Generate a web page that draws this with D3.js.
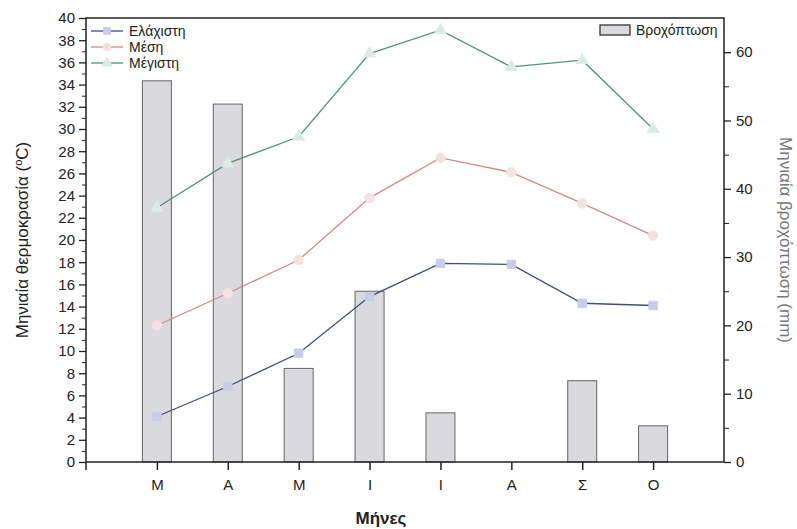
<!DOCTYPE html>
<html><head><meta charset="utf-8">
<script src="https://cdn.jsdelivr.net/npm/d3@7"></script>
<style>body{margin:0;background:#fff}svg{display:block}text{font-family:"Liberation Sans",Arial,sans-serif}</style>
</head><body>
<svg id="c" width="797" height="529"></svg>
<script>
const months = ["Μ","Α","Μ","Ι","Ι","Α","Σ","Ο"];
const tMin  = [4.1, 6.8, 9.8, 14.9, 17.9, 17.8, 14.3, 14.1];
const tMean = [12.3, 15.2, 18.2, 23.8, 27.4, 26.1, 23.3, 20.4];
const tMax  = [22.9, 26.9, 29.3, 36.8, 38.9, 35.6, 36.2, 30.0];
const rain  = [55.8, 52.4, 13.7, 25.0, 7.2, 0, 11.9, 5.3];
const leftTicks = d3.range(0, 41, 2);
const rightTicks = [0,10,20,30,40,50,60];

const svg = d3.select("#c");
const L = 86, R = 724, T = 18, B = 462;
const x = d3.scaleLinear().domain([0, 9]).range([L, R]);
const y = d3.scaleLinear().domain([0, 40]).range([B, T]);
const y2 = d3.scaleLinear().domain([0, 65]).range([B, T]);
const bw = 29;

// bars
svg.append("g").selectAll("rect").data(rain.map((v,i)=>({v,i}))).join("rect")
  .filter(d=>d.v>0)
  .attr("x", d=>x(d.i+1)-bw/2).attr("y", d=>y2(d.v))
  .attr("width", bw).attr("height", d=>B-y2(d.v))
  .attr("fill", "#dadade").attr("stroke", "#666").attr("stroke-width", 1);

// frame
svg.append("rect").attr("x", L).attr("y", T).attr("width", R-L).attr("height", B-T)
  .attr("fill","none").attr("stroke","#222").attr("stroke-width",1.5);

// left axis
const la = svg.append("g").attr("transform", `translate(${L},0)`)
  .call(d3.axisLeft(y).tickValues(leftTicks).tickSize(7).tickPadding(4).tickFormat(d3.format("d")));
la.select(".domain").remove();
la.selectAll("line").attr("stroke","#222").attr("stroke-width",1.3);
la.selectAll("text").attr("font-size",15).attr("fill","#222");
svg.append("g").attr("transform", `translate(${L},0)`)
  .call(d3.axisLeft(y).tickValues(d3.range(1,40,2)).tickSize(4).tickFormat(""))
  .call(g=>g.select(".domain").remove()).selectAll("line").attr("stroke","#222");

// right axis
const ra = svg.append("g").attr("transform", `translate(${R},0)`)
  .call(d3.axisRight(y2).tickValues(rightTicks).tickSize(7).tickPadding(5).tickFormat(d3.format("d")));
ra.select(".domain").remove();
ra.selectAll("line").attr("stroke","#222").attr("stroke-width",1.3);
ra.selectAll("text").attr("font-size",15).attr("fill","#222");
svg.append("g").attr("transform", `translate(${R},0)`)
  .call(d3.axisRight(y2).tickValues(d3.range(5,65,10)).tickSize(5).tickFormat(""))
  .call(g=>g.select(".domain").remove()).selectAll("line").attr("stroke","#222");

// bottom axis
const ba = svg.append("g").attr("transform", `translate(0,${B})`)
  .call(d3.axisBottom(x).tickValues(d3.range(1,9)).tickSize(8).tickPadding(9).tickFormat(d=>months[d-1]));
ba.select(".domain").remove();
ba.selectAll("line").attr("stroke","#222").attr("stroke-width",1.5);
ba.selectAll("text").attr("font-size",15).attr("fill","#222");
svg.append("line").attr("x1",L).attr("x2",L).attr("y1",B).attr("y2",B+8).attr("stroke","#222").attr("stroke-width",1.5);

// lines
const series = [
  {name:"Ελάχιστη", data:tMin, line:"#3f4d80", fill:"#c9cce8", shape:d3.symbolSquare},
  {name:"Μέση", data:tMean, line:"#d48a86", fill:"#f4e2e2", shape:d3.symbolCircle},
  {name:"Μέγιστη", data:tMax, line:"#4f9474", fill:"#dcece4", shape:d3.symbolTriangle}
];
const lg = d3.line().x((d,i)=>x(i+1)).y(d=>y(d));
series.forEach(s=>{
  svg.append("path").attr("d", lg(s.data)).attr("fill","none").attr("stroke", s.line).attr("stroke-width",1.3);
  svg.append("g").selectAll("path").data(s.data).join("path")
    .attr("transform",(d,i)=>`translate(${x(i+1)},${y(d)})`)
    .attr("d", d3.symbol().type(s.shape).size(s.shape===d3.symbolTriangle?60:70))
    .attr("fill", s.fill).attr("stroke", s.fill);
});

// legend left
series.forEach((s,i)=>{
  const yy = 31 + i*16;
  svg.append("line").attr("x1",91).attr("x2",123).attr("y1",yy).attr("y2",yy).attr("stroke",s.line).attr("stroke-width",1.3);
  svg.append("path").attr("transform",`translate(107,${yy})`).attr("d", d3.symbol().type(s.shape).size(45))
    .attr("fill",s.fill).attr("stroke",s.fill);
  svg.append("text").attr("x",129).attr("y",yy).attr("dy","0.35em").attr("font-size",14).attr("fill","#222").text(s.name);
});
// legend right
svg.append("rect").attr("x",600).attr("y",25).attr("width",30).attr("height",10)
  .attr("fill","#dadade").attr("stroke","#333").attr("stroke-width",1.3);
svg.append("text").attr("x",636).attr("y",30).attr("dy","0.35em").attr("font-size",14).attr("fill","#222").text("Βροχόπτωση");

// axis titles
const lt = svg.append("text").attr("transform","translate(28,240) rotate(-90)").attr("text-anchor","middle")
  .attr("font-size",17).attr("fill","#222");
lt.append("tspan").text("Μηνιαία θερμοκρασία (");
lt.append("tspan").attr("font-size",11).attr("dy","-6").text("o");
lt.append("tspan").attr("dy","6").text("C)");
svg.append("text").attr("transform","translate(780,240) rotate(90)").attr("text-anchor","middle")
  .attr("font-size",17).attr("fill","#777").text("Μηνιαία βροχόπτωση (mm)");
svg.append("text").attr("x",381).attr("y",518).attr("dy","0.35em").attr("text-anchor","middle")
  .attr("font-size",17).attr("font-weight","bold").attr("fill","#222").text("Μήνες");
</script>
</body></html>
